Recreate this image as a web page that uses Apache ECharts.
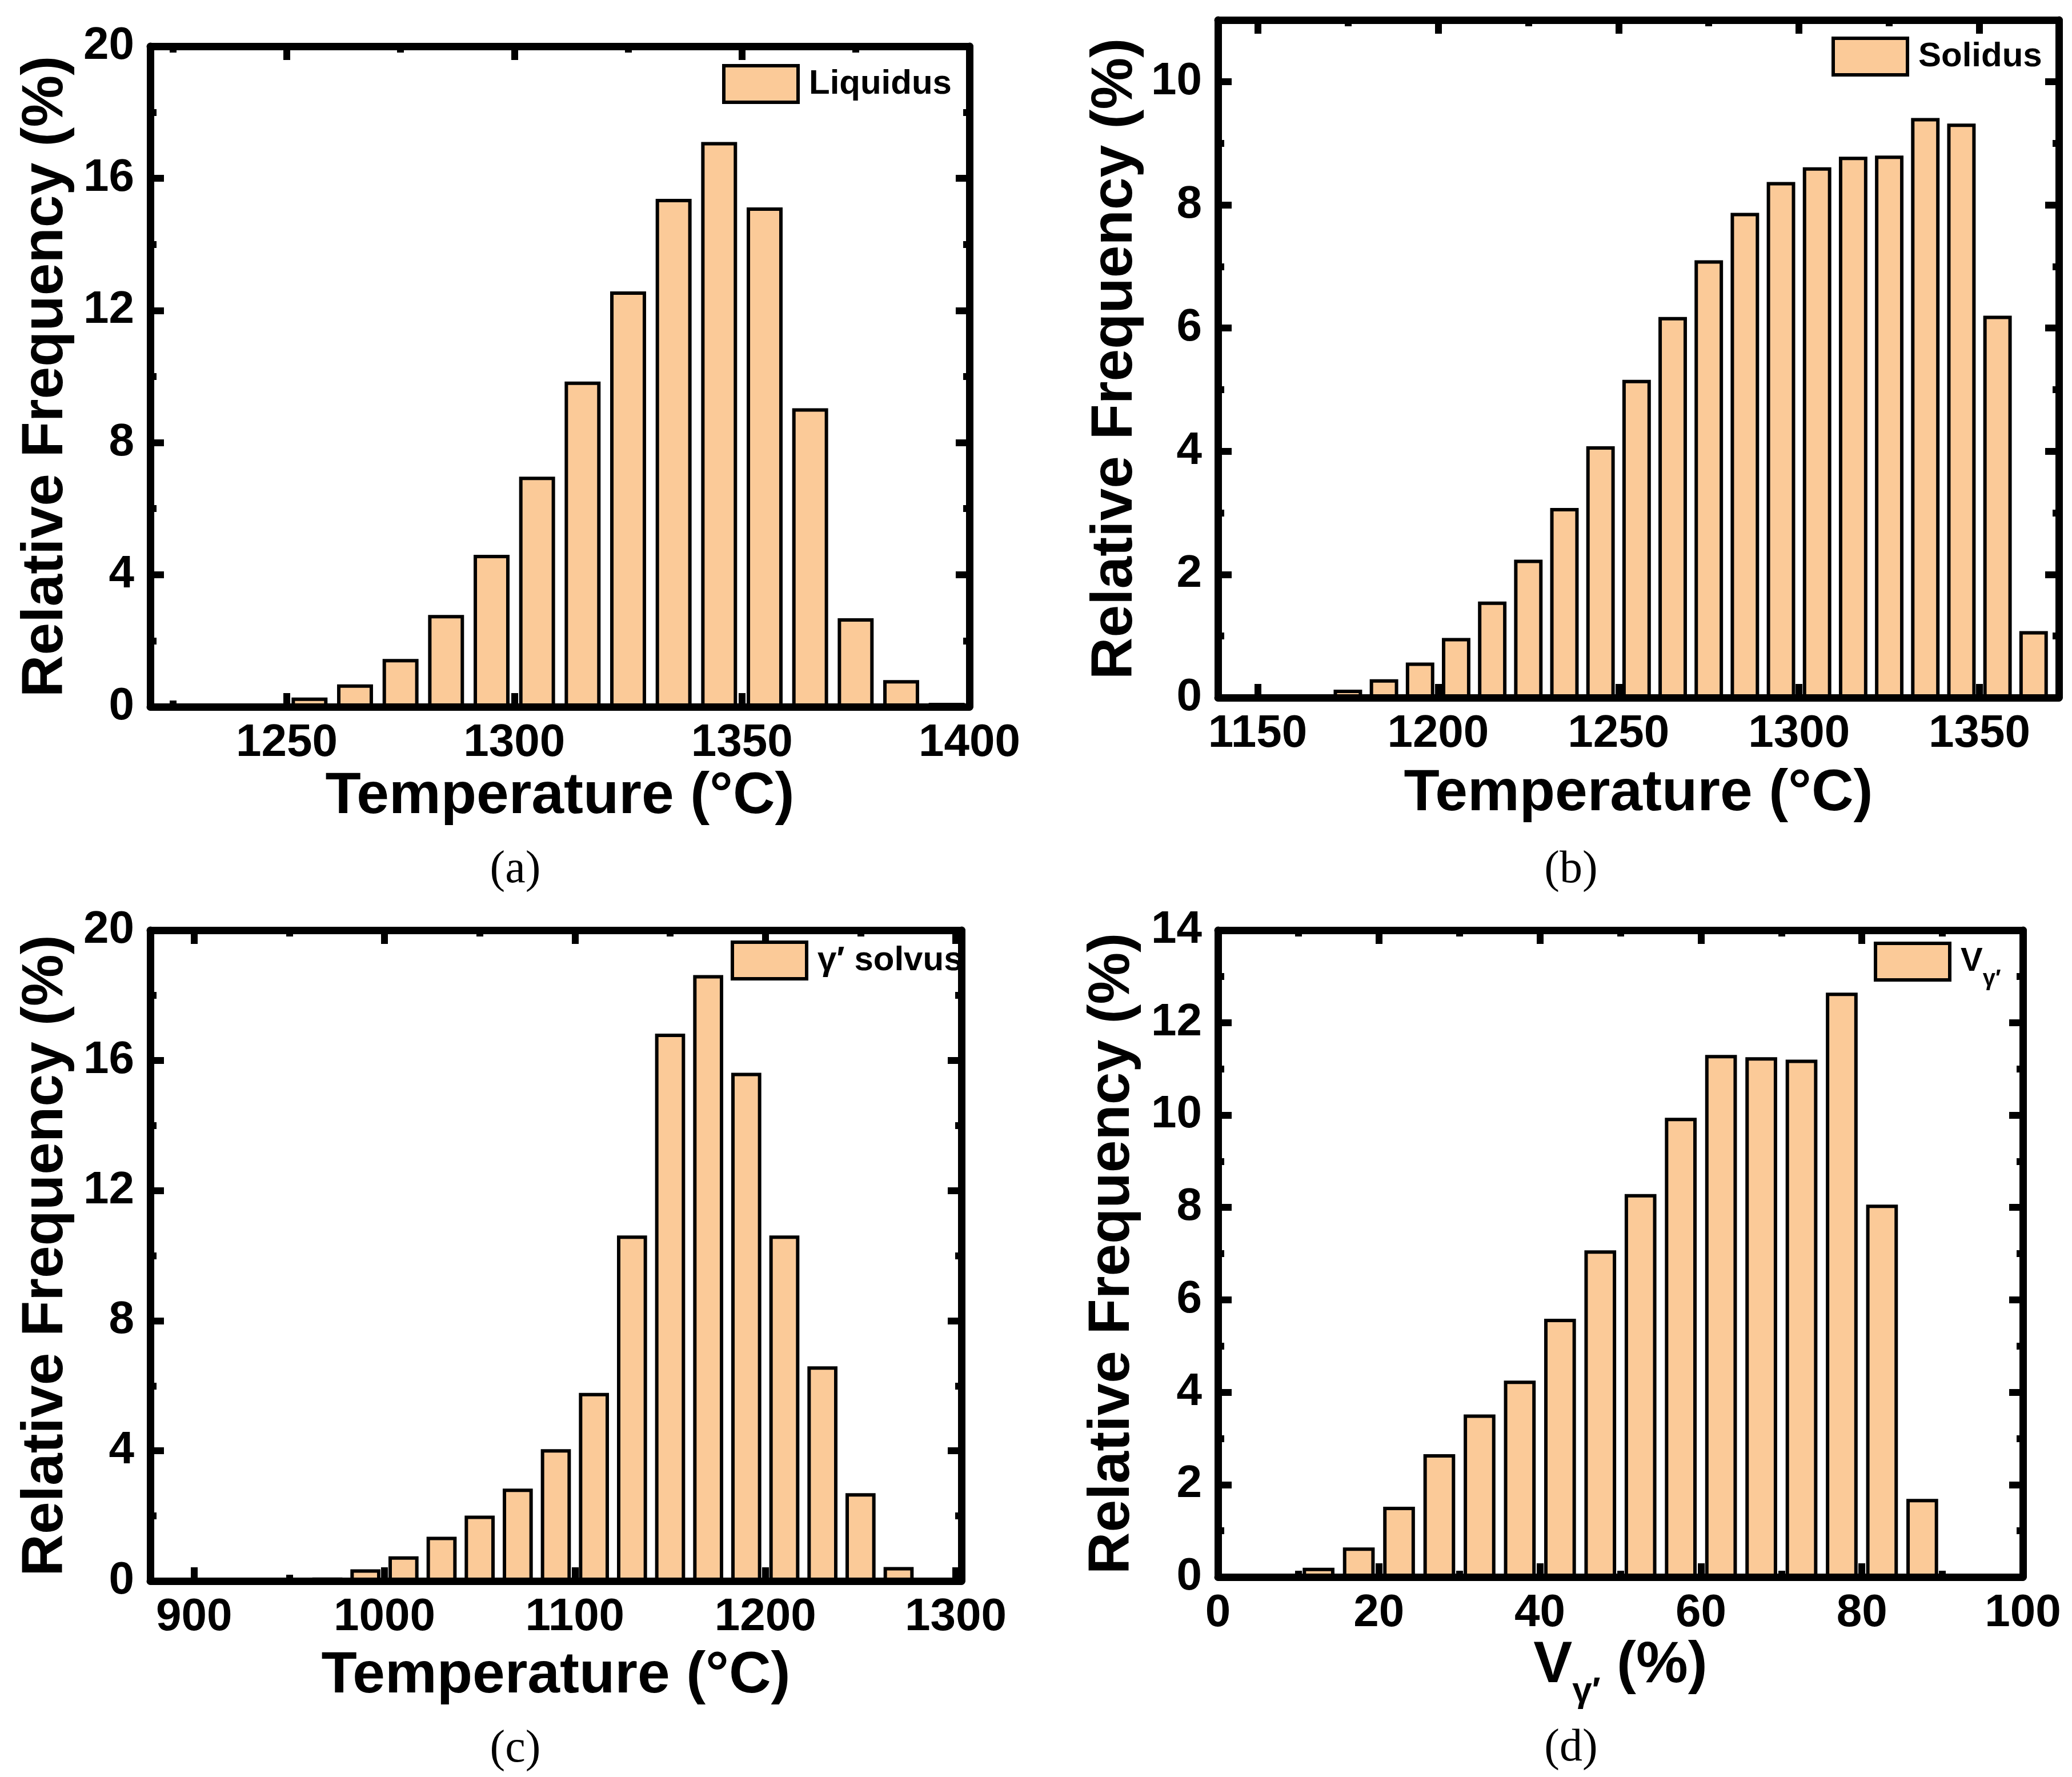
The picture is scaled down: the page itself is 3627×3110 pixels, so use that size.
<!DOCTYPE html>
<html>
<head>
<meta charset="utf-8">
<script src="https://cdn.jsdelivr.net/npm/echarts@6/dist/echarts.min.js"></script>
<style>
  html, body { margin: 0; padding: 0; background: #fff; }
  #chart { width: 3627px; height: 3110px; }
</style>
</head>
<body>
<div id="chart"></div>
<script>
// (a) liquidus
var liqCenters = [1245, 1255, 1265, 1275, 1285, 1295, 1305, 1315, 1325, 1335, 1345, 1355, 1365, 1375, 1385, 1395];
var liqValues  = [0.05, 0.28, 0.68, 1.45, 2.78, 4.6, 6.97, 9.85, 12.58, 15.38, 17.1, 15.12, 9.04, 2.68, 0.81, 0.12];
var liqXMajor = [1250, 1300, 1350, 1400];
var liqXMinor = [1225, 1275, 1325, 1375];
var liqYMajor = [0, 4, 8, 12, 16, 20];
var liqYMinor = [2, 6, 10, 14, 18];

// (b) solidus
var solCenters = [1165, 1175, 1185, 1195, 1205, 1215, 1225, 1235, 1245, 1255, 1265, 1275, 1285, 1295, 1305, 1315, 1325, 1335, 1345, 1355, 1365];
var solValues  = [0.03, 0.13, 0.3, 0.57, 0.97, 1.56, 2.24, 3.08, 4.08, 5.16, 6.18, 7.1, 7.87, 8.37, 8.61, 8.78, 8.8, 9.41, 9.32, 6.2, 1.08];
var solXMajor = [1150, 1200, 1250, 1300, 1350];
var solXMinor = [1175, 1225, 1275, 1325];
var solYMajor = [0, 2, 4, 6, 8, 10];
var solYMinor = [1, 3, 5, 7, 9];

// (c) gamma prime solvus
var gpsCenters = [970, 990, 1010, 1030, 1050, 1070, 1090, 1110, 1130, 1150, 1170, 1190, 1210, 1230, 1250, 1270];
var gpsValues  = [0.11, 0.36, 0.76, 1.36, 2.01, 2.84, 4.05, 5.78, 10.62, 16.82, 18.62, 15.62, 10.62, 6.6, 2.7, 0.43];
var gpsXMajor = [900, 1000, 1100, 1200, 1300];
var gpsXMinor = [950, 1050, 1150, 1250];
var gpsYMajor = [0, 4, 8, 12, 16, 20];
var gpsYMinor = [2, 6, 10, 14, 18];

// (d) gamma prime volume fraction
var vgpCenters = [7.5, 12.5, 17.5, 22.5, 27.5, 32.5, 37.5, 42.5, 47.5, 52.5, 57.5, 62.5, 67.5, 72.5, 77.5, 82.5, 87.5];
var vgpValues  = [0.03, 0.2, 0.64, 1.52, 2.66, 3.52, 4.25, 5.59, 7.07, 8.29, 9.94, 11.3, 11.25, 11.2, 12.65, 8.06, 1.69];
var vgpXMajor = [0, 20, 40, 60, 80, 100];
var vgpXMinor = [10, 30, 50, 70, 90];
var vgpYMajor = [0, 2, 4, 6, 8, 10, 12, 14];
var vgpYMinor = [1, 3, 5, 7, 9, 11, 13];

var FONT = 'Liberation Sans';
var FILL = '#FBCA98';

var chart = echarts.init(document.getElementById('chart'));

var grids = [
    {left: 263, top: 81, width: 1434, height: 1156},
    {left: 2132, top: 35, width: 1472, height: 1186},
    {left: 263, top: 1628, width: 1420, height: 1139},
    {left: 2132, top: 1628, width: 1409, height: 1132}
];

var titleStyle = {fontSize: 102, fontWeight: 'bold', color: '#000', fontFamily: FONT};

// one panel axis = main (labels+name), minor ticks, and mirrored major/minor on the opposite side
function buildAxes(dim, gi, min, max, majors, minors, name, nameGap, nameStyle) {
    var pos = dim === 'x' ? ['bottom', 'top'] : ['left', 'right'];
    var line = {show: true, onZero: false, lineStyle: {color: '#000', width: 13}};
    var noLine = {show: false, onZero: false};
    function tick(vals, len) {
        return {show: true, inside: true, length: len, lineStyle: {color: '#000', width: 12}, customValues: vals};
    }
    function base(p) {
        return {type: 'value', gridIndex: gi, position: p, min: min, max: max,
                splitLine: {show: false}, axisLabel: {show: false}};
    }
    var main = base(pos[0]);
    main.axisLine = line;
    main.axisTick = tick(majors, 24);
    main.axisLabel = {show: true, customValues: majors, margin: dim === 'x' ? 24 : 28,
                      formatter: function (v) { return String(v); },
                      fontSize: 80, fontWeight: 'bold', color: '#000', fontFamily: FONT};
    main.name = name;
    main.nameLocation = 'middle';
    main.nameGap = nameGap;
    main.nameTextStyle = nameStyle || titleStyle;

    var minor = base(pos[0]);
    minor.axisLine = noLine;
    minor.axisTick = tick(minors, 11);

    var opp = base(pos[1]);
    opp.axisLine = line;
    opp.axisTick = tick(majors, 24);

    var oppMinor = base(pos[1]);
    oppMinor.axisLine = noLine;
    oppMinor.axisTick = tick(minors, 11);

    return [main, minor, opp, oppMinor];
}

var vTitleStyle = {
    fontSize: 102, fontWeight: 'bold', color: '#000', fontFamily: FONT,
    rich: {
        v: {fontSize: 102, fontWeight: 'bold', fontFamily: FONT, color: '#000', lineHeight: 152},
        s: {fontSize: 62, fontWeight: 'bold', fontFamily: FONT, color: '#000', lineHeight: 62, verticalAlign: 'bottom'}
    }
};

var yName = 'Relative Frequency (%)';
var tName = 'Temperature (°C)';

var xAxes = [].concat(
    buildAxes('x', 0, 1220, 1400, liqXMajor, liqXMinor, tName, 107),
    buildAxes('x', 1, 1139, 1372, solXMajor, solXMinor, tName, 118),
    buildAxes('x', 2, 877, 1303, gpsXMajor, gpsXMinor, tName, 116),
    buildAxes('x', 3, 0, 100, vgpXMajor, vgpXMinor, '{v|V}{s|γ′}{v| (%)}', 75, vTitleStyle)
);
var yAxes = [].concat(
    buildAxes('y', 0, 0, 20, liqYMajor, liqYMinor, yName, 131),
    buildAxes('y', 1, 0, 11, solYMajor, solYMinor, yName, 128),
    buildAxes('y', 2, 0, 20, gpsYMajor, gpsYMinor, yName, 131),
    buildAxes('y', 3, 0, 14, vgpYMajor, vgpYMinor, yName, 133)
);

function barSeries(name, gi, centers, values) {
    return {
        type: 'bar', name: name, xAxisIndex: gi * 4, yAxisIndex: gi * 4,
        data: centers.map(function (c, k) { return [c, values[k]]; }),
        barWidth: '79%',
        itemStyle: {color: FILL, borderColor: '#000', borderWidth: 6},
        animation: false
    };
}

function legendAt(left, top, name, extra) {
    var lg = {
        left: left, top: top, padding: 0, data: [name], icon: 'rect',
        itemWidth: 130, itemHeight: 64, selectedMode: false,
        itemStyle: {color: FILL, borderColor: '#000', borderWidth: 6},
        textStyle: {fontSize: 60, fontWeight: 'bold', color: '#000', fontFamily: FONT, padding: [0, 0, 0, 14]}
    };
    if (extra) Object.assign(lg, extra);
    return lg;
}

function caption(text, x, y) {
    return {type: 'text', x: x, y: y,
            style: {text: text, fill: '#000', font: '80px "Liberation Serif"', align: 'center', verticalAlign: 'middle'}};
}

chart.setOption({
    backgroundColor: '#fff',
    animation: false,
    grid: grids,
    xAxis: xAxes,
    yAxis: yAxes,
    legend: [
        legendAt(1264, 112, 'Liquidus'),
        legendAt(3206, 64, 'Solidus'),
        legendAt(1279, 1646, 'γ′ solvus'),
        legendAt(3280, 1648, 'Vγ′', {
            formatter: function () { return '{v|V}{s|γ′}'; },
            textStyle: {fontSize: 58, fontWeight: 'bold', color: '#000', fontFamily: FONT, padding: [0, 0, 0, 14],
                rich: {
                    v: {fontSize: 58, fontWeight: 'bold', fontFamily: FONT, color: '#000', lineHeight: 102},
                    s: {fontSize: 40, fontWeight: 'bold', fontFamily: FONT, color: '#000', lineHeight: 40, verticalAlign: 'bottom'}
                }}
        })
    ],
    series: [
        barSeries('Liquidus', 0, liqCenters, liqValues),
        barSeries('Solidus', 1, solCenters, solValues),
        barSeries('γ′ solvus', 2, gpsCenters, gpsValues),
        barSeries('Vγ′', 3, vgpCenters, vgpValues)
    ],
    graphic: [
        caption('(a)', 902, 1523),
        caption('(b)', 2750, 1523),
        caption('(c)', 902, 3062),
        caption('(d)', 2750, 3060)
    ]
});
</script>
</body>
</html>
